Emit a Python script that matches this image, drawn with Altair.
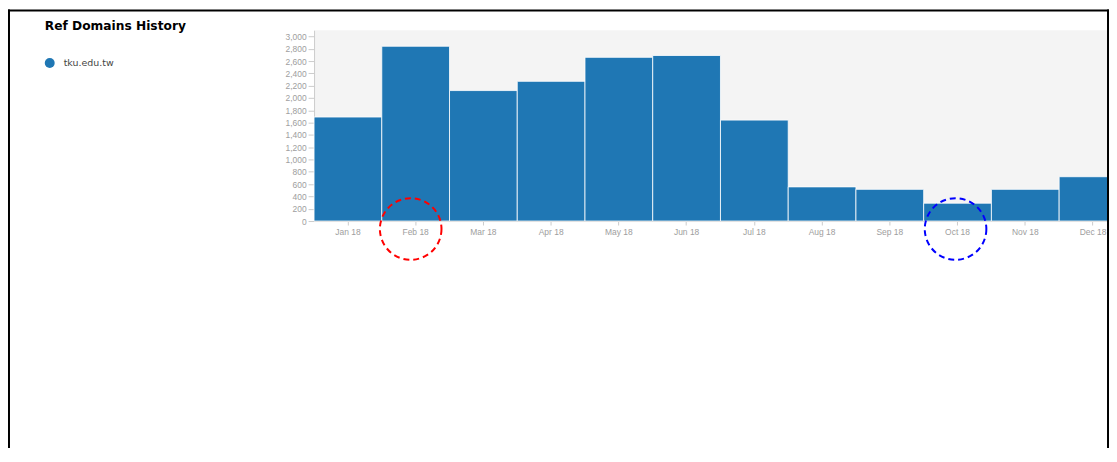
import altair as alt
import pandas as pd

# ---- data ----
months = ["Jan 18", "Feb 18", "Mar 18", "Apr 18", "May 18", "Jun 18",
          "Jul 18", "Aug 18", "Sep 18", "Oct 18", "Nov 18", "Dec 18"]
ref_domains = [1690, 2840, 2120, 2270, 2660, 2690, 1640, 555, 515, 290, 515, 720]
series_name = "tku.edu.tw"
y_ticks = list(range(0, 3001, 200))
ring_months = ["Feb 18", "Oct 18"]
ring_colors = ["#ff0000", "#0000ff"]
chart_title = "Ref Domains History"

bars_df = pd.DataFrame({"month": months, "value": ref_domains,
                        "site": [series_name] * len(months)})
rings_df = pd.DataFrame({"month": ring_months, "ring": ring_colors,
                         "zero": [0] * len(ring_months)})
one = pd.DataFrame({"k": [0]})

x_scale = alt.Scale(domain=months, paddingInner=0, paddingOuter=0, range=[0, 818])
y_scale = alt.Scale(domain=[0, 3100], nice=False)

x_axis = alt.Axis(labelAngle=0, labelFont="Liberation Sans", labelFontSize=8.5,
                  labelColor="#9e9e9e", tickColor="#cccccc", domainColor="#cccccc",
                  tickSize=4, labelPadding=3, grid=False)
y_axis = alt.Axis(values=y_ticks, format=",.0f", labelFont="Liberation Sans",
                  labelFontSize=8.5, labelColor="#9e9e9e", tickColor="#cccccc",
                  domainColor="#cccccc", tickSize=6, labelPadding=2, grid=False)

bars = alt.Chart(bars_df).mark_bar(stroke="#ffffff", strokeWidth=1, strokeOpacity=0.8).encode(
    x=alt.X("month:N", sort=months, title=None, scale=x_scale, axis=x_axis),
    y=alt.Y("value:Q", scale=y_scale, title=None, axis=y_axis),
    color=alt.Color("site:N", scale=alt.Scale(domain=[series_name], range=["#1f77b4"]),
                    legend=alt.Legend(orient="none", legendX=-271, legendY=28, title=None,
                                      symbolType="circle", symbolSize=100,
                                      symbolStrokeWidth=0, padding=0,
                                      labelFont="DejaVu Sans", labelFontSize=9.5,
                                      labelColor="#444444", labelOffset=9)),
)


def ring_layer(idx, x_off):
    return alt.Chart(rings_df).transform_filter(
        alt.datum.month == ring_months[idx]
    ).mark_point(
        shape="circle", filled=False, strokeDash=[6, 4], strokeWidth=2, size=3844,
        xOffset=x_off, yOffset=8, opacity=1,
    ).encode(
        x=alt.X("month:N", sort=months, title=None, scale=x_scale, axis=x_axis),
        y=alt.Y("zero:Q", scale=y_scale, title=None, axis=y_axis),
        stroke=alt.Stroke("ring:N", scale=None),
    )


ring_red = ring_layer(0, -5)
ring_blue = ring_layer(1, -2)

title_text = alt.Chart(one).mark_text(
    text=chart_title, align="left", baseline="alphabetic",
    font="DejaVu Sans", fontSize=12.3, fontWeight="bold", color="#000000",
).encode(x=alt.value(45 - 316), y=alt.value(0))

frame_left = alt.Chart(one).mark_rule(color="#000000", strokeWidth=2).encode(
    x=alt.value(-307), y=alt.value(-21), y2=alt.value(425))
frame_top = alt.Chart(one).mark_rule(color="#000000", strokeWidth=2).encode(
    x=alt.value(-308), x2=alt.value(800), y=alt.value(-20))
frame_right = alt.Chart(one).mark_rule(color="#000000", strokeWidth=2).encode(
    x=alt.value(799), y=alt.value(-21), y2=alt.value(425))

chart = alt.layer(bars, ring_red, ring_blue, title_text,
                  frame_left, frame_top, frame_right).properties(
    width=800, height=192,
    autosize=alt.AutoSizeParams(type="none"),
    padding={"left": 308, "top": 21, "right": 0, "bottom": 227},
).configure(background="#ffffff").configure_view(fill="#f4f4f4", strokeWidth=0)

chart.save("out.html", embed_options={"renderer": "svg", "actions": False})
